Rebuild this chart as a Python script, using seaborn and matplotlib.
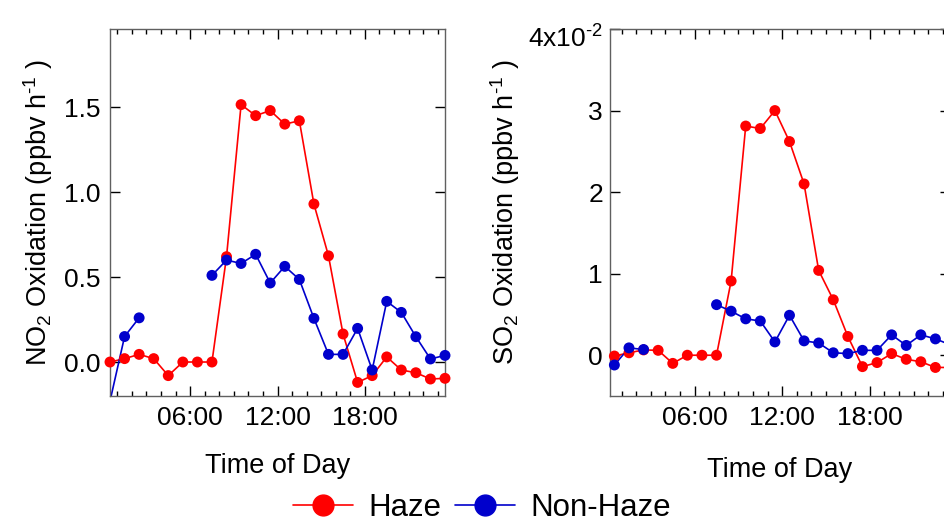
import numpy as np
import pandas as pd
import matplotlib
matplotlib.use("Agg")
import matplotlib.pyplot as plt
from matplotlib.lines import Line2D
from matplotlib.ticker import FixedLocator, MultipleLocator, FixedFormatter
from matplotlib.transforms import ScaledTranslation
import seaborn as sns

# Hourly mean oxidation rates (values at the half hour)
hours = np.arange(24) + 0.5
nan = np.nan

no2_haze = [0.00, 0.02, 0.045, 0.02, -0.08, 0.00, 0.00, 0.00, 0.62, 1.515,
            1.45, 1.48, 1.40, 1.42, 0.93, 0.625, 0.165, -0.12, -0.08, 0.03,
            -0.047, -0.063, -0.10, -0.096]
no2_nonhaze = [-0.23, 0.15, 0.26, nan, nan, nan, nan, 0.51, 0.60, 0.58,
               0.634, 0.465, 0.563, 0.486, 0.257, 0.045, 0.045, 0.198, -0.047, 0.357,
               0.292, 0.149, 0.018, 0.039]

so2_haze = [-0.0001, 0.0003, 0.00065, 0.0006, -0.0010, 0.0000, 0.0000, 0.0000, 0.0091, 0.0281,
            0.0278, 0.0300, 0.0262, 0.0210, 0.0104, 0.0068, 0.0023, -0.0014, -0.0009, 0.0002,
            -0.0005, -0.0008, -0.0015, -0.0015]
so2_nonhaze = [-0.0012, 0.0009, 0.0007, nan, nan, nan, nan, 0.0062, 0.0054, 0.00446,
               0.0042, 0.00163, 0.0049, 0.00176, 0.0015, 0.0003, 0.0002, 0.0006, 0.0006, 0.0025,
               0.0012, 0.0025, 0.0020, 0.0013]

conditions = ["Haze", "Non-Haze"]
palette = {"Haze": "#FF0000", "Non-Haze": "#0000CC"}

hour_ticks = [6, 12, 18]
hour_labels = ["06:00", "12:00", "18:00"]

no2_ticks = [0.0, 0.5, 1.0, 1.5]
no2_labels = ["0.0", "0.5", "1.0", "1.5"]
so2_ticks = [0.0, 0.01, 0.02, 0.03, 0.04]
so2_labels = ["0", "1", "2", "3", r"4x10$^{\text{-2}}$"]

sns.set_theme(style="ticks")
plt.rcParams["font.family"] = ["Liberation Sans", "DejaVu Sans"]
plt.rcParams["mathtext.fontset"] = "custom"
plt.rcParams["mathtext.rm"] = "Liberation Sans"
plt.rcParams["mathtext.it"] = "Liberation Sans:italic"
plt.rcParams["mathtext.bf"] = "Liberation Sans:bold"
for key in ["text.color", "axes.labelcolor", "xtick.color", "ytick.color"]:
    plt.rcParams[key] = "black"


def long_frame(haze, nonhaze):
    frames = []
    for cond, vals in zip(conditions, [haze, nonhaze]):
        v = np.asarray(vals, dtype=float)
        seg = np.cumsum(np.isnan(v))
        frames.append(pd.DataFrame({
            "hour": hours,
            "value": v,
            "condition": cond,
            "segment": [f"{cond}-{s}" for s in seg],
        }))
    return pd.concat(frames, ignore_index=True).dropna()


def draw_panel(ax, df, ylim, xlim, yticks, ylabels, ylabel, ylabelpad, ytickpad,
               xlabelpad):
    sns.lineplot(data=df, x="hour", y="value", hue="condition", units="segment",
                 estimator=None, sort=False, palette=palette, linewidth=1.2,
                 legend=False, ax=ax)
    inside = df[(df["value"] >= ylim[0]) & (df["value"] <= ylim[1])]
    sns.scatterplot(data=inside, x="hour", y="value", hue="condition",
                    palette=palette, s=62, edgecolor="none", linewidth=0,
                    legend=False, ax=ax, clip_on=False, zorder=3)
    ax.set_xlim(*xlim)
    ax.set_ylim(*ylim)
    ax.xaxis.set_major_locator(FixedLocator(hour_ticks))
    ax.xaxis.set_major_formatter(FixedFormatter(hour_labels))
    ax.xaxis.set_minor_locator(MultipleLocator(1))
    ax.yaxis.set_major_locator(FixedLocator(yticks))
    ax.yaxis.set_major_formatter(FixedFormatter(ylabels))
    ax.tick_params(which="both", direction="in", top=True, right=True,
                   color="black", labelcolor="black", width=1, labelsize=19)
    ax.tick_params(which="major", length=7.2)
    ax.tick_params(which="minor", length=3.3)
    ax.tick_params(axis="x", pad=7.5)
    ax.tick_params(axis="y", pad=ytickpad)
    for sp in ax.spines.values():
        sp.set_color("#606060")
        sp.set_linewidth(1)
    ax.set_xlabel("Time of Day", fontsize=19.5, labelpad=xlabelpad)
    ax.set_ylabel(ylabel, fontsize=19.5, labelpad=ylabelpad)


W, H = 944, 522
fig = plt.figure(figsize=(W / 100, H / 100), dpi=100)
ax1 = fig.add_axes([110 / W, (H - 396) / H, 335 / W, 367 / H])
ax2 = fig.add_axes([610 / W, (H - 396) / H, 340 / W, 367 / H])

draw_panel(ax1, long_frame(no2_haze, no2_nonhaze), (-0.2, 1.96), (0.5, 23.5),
           no2_ticks, no2_labels,
           r"NO$_{\mathregular{2}}$ Oxidation (ppbv h$^{\text{-1}}$ )", 6.5, 7, 16)
draw_panel(ax2, long_frame(so2_haze, so2_nonhaze), (-0.005, 0.04), (0.2, 23.5),
           so2_ticks, so2_labels,
           r"SO$_{\mathregular{2}}$ Oxidation (ppbv h$^{\text{-1}}$ )", 4.5, 5, 19)

# The exponent label at the top of the SO2 axis sits a little below its tick
fig.canvas.draw()
top_label = ax2.yaxis.get_major_ticks()[-1].label1
top_label.set_transform(top_label.get_transform()
                        + ScaledTranslation(0, -8 / 100, fig.dpi_scale_trans))

handles = [Line2D([0], [0], color=palette[c], marker="o", markersize=15,
                  linewidth=1.2) for c in conditions]
fig.legend(handles, conditions, loc="center", bbox_to_anchor=(482 / W, 1 - 508 / H),
           ncol=2, frameon=False, fontsize=22.5, handlelength=1.9,
           handletextpad=0.5, columnspacing=0.45, borderpad=0, borderaxespad=0)

fig.savefig("out.png", dpi=100)
